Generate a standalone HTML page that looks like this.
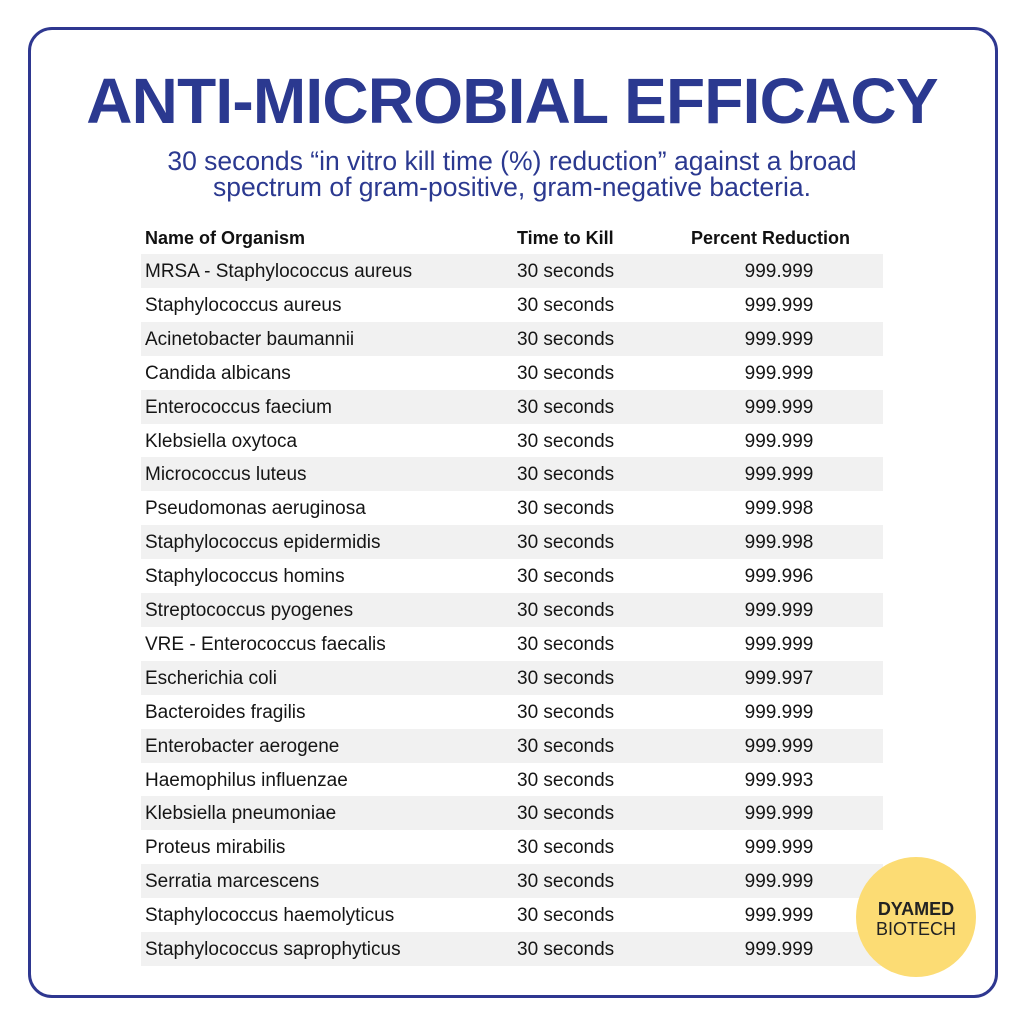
<!DOCTYPE html>
<html><head><meta charset="utf-8"><style>
*{margin:0;padding:0;box-sizing:border-box}
body{width:1024px;height:1024px;background:#fff;position:relative;overflow:hidden;font-family:"Liberation Sans",sans-serif}
.box{position:absolute;left:28px;top:27px;width:970px;height:971px;border:3px solid #2e3790;border-radius:24px}
.title{position:absolute;left:0;width:1024px;top:64px;text-align:center;font-weight:bold;font-size:64px;color:#2b3990;letter-spacing:-0.8px;white-space:nowrap}
.sub{position:absolute;left:0;width:1024px;top:148px;text-align:center;font-size:26.5px;line-height:26px;color:#2b3990;white-space:nowrap}
.hdr{position:absolute;top:228px;font-weight:bold;font-size:18px;color:#111}
.row{position:absolute;left:141px;width:742px;height:34px;font-size:19px;color:#151515;line-height:36px}
.row.g{background:#f1f1f1}
.row span{position:absolute}
.c1{left:4px}.c2{left:376px}.c3{left:560px;width:156px;text-align:center}
.logo{position:absolute;left:856px;top:857px;width:120px;height:120px;border-radius:50%;background:#fcdc74;text-align:center;color:#222;font-size:18px;line-height:20px;padding-top:42px}
</style></head><body>
<div class="box"></div>
<div class="title">ANTI-MICROBIAL EFFICACY</div>
<div class="sub">30 seconds “in vitro kill time (%) reduction” against a broad<br>spectrum of gram-positive, gram-negative bacteria.</div>
<div class="hdr" style="left:145px">Name of Organism</div>
<div class="hdr" style="left:517px">Time to Kill</div>
<div class="hdr" style="left:691px">Percent Reduction</div>
<div id="rows"></div>
<div class="logo"><b>DYAMED</b><br>BIOTECH</div>
<script>
var d=[["MRSA - Staphylococcus aureus","999.999"],["Staphylococcus aureus","999.999"],["Acinetobacter baumannii","999.999"],["Candida albicans","999.999"],["Enterococcus faecium","999.999"],["Klebsiella oxytoca","999.999"],["Micrococcus luteus","999.999"],["Pseudomonas aeruginosa","999.998"],["Staphylococcus epidermidis","999.998"],["Staphylococcus homins","999.996"],["Streptococcus pyogenes","999.999"],["VRE - Enterococcus faecalis","999.999"],["Escherichia coli","999.997"],["Bacteroides fragilis","999.999"],["Enterobacter aerogene","999.999"],["Haemophilus influenzae","999.993"],["Klebsiella pneumoniae","999.999"],["Proteus mirabilis","999.999"],["Serratia marcescens","999.999"],["Staphylococcus haemolyticus","999.999"],["Staphylococcus saprophyticus","999.999"]];
var h="";d.forEach(function(r,i){h+='<div class="row'+(i%2==0?' g':'')+'" style="top:'+(254+i*33.9)+'px"><span class="c1">'+r[0]+'</span><span class="c2">30 seconds</span><span class="c3">'+r[1]+'</span></div>';});
document.getElementById("rows").innerHTML=h;
</script>
</body></html>
